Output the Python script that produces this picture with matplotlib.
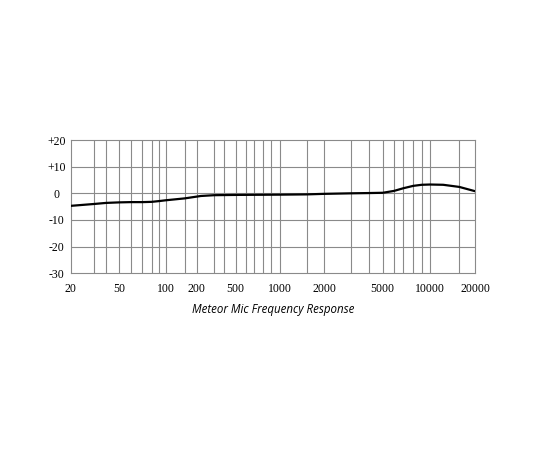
import numpy as np
import matplotlib
matplotlib.use('Agg')
import matplotlib.pyplot as plt

# frequency response
freq = [20, 30, 40, 50, 60, 70, 80, 90, 100, 150, 220, 300, 500, 1000, 1500,
        2000, 3000, 4000, 5000, 6000, 7000, 8000, 9000, 10000, 12000, 15000, 20000]
level = [-4.7, -4.0, -3.6, -3.4, -3.3, -3.3, -3.2, -2.9, -2.6, -1.9, -1.0, -0.7,
         -0.6, -0.5, -0.4, -0.2, 0.0, 0.1, 0.2, 0.9, 1.9, 2.8, 3.2, 3.3, 3.2, 2.4, 0.8]

xticks = [20, 50, 100, 200, 500, 1000, 2000, 5000, 10000, 20000]
yticks = [-30, -20, -10, 0, 10, 20]
ylabels = ['-30', '-20', '-10', '0', '+10', '+20']
title = 'Meteor Mic Frequency Response'

# the printed grid is not an exact log scale, so the axis follows the drawn lines
grid_f = [20, 30, 40, 50, 60, 70, 80, 90, 100, 150, 200, 300, 400, 500, 600, 700,
          800, 900, 1000, 1500, 2000, 3000, 4000, 5000, 6000, 7000, 8000, 9000,
          10000, 15000, 20000]
grid_pos = [70.7, 94, 106, 119, 130.7, 142.3, 151.7, 159.3, 166, 184.7, 196.7,
            214.3, 224.3, 235.7, 245.7, 254.3, 262.7, 270.7, 280, 306.7, 324,
            350.7, 368.7, 382.7, 394, 403.3, 413.3, 421.7, 430, 459.3, 475]
log_f = np.log10(grid_f)


def fwd(f):
    f = np.clip(np.asarray(f, dtype=float), 1e-9, None)
    return np.interp(np.log10(f), log_f, grid_pos)


def inv(p):
    return 10 ** np.interp(np.asarray(p, dtype=float), grid_pos, log_f)


fig = plt.figure(figsize=(5.5, 4.5), dpi=100)
ax = fig.add_axes([70.7 / 550, 1 - 273.3 / 450, (475 - 70.7) / 550, (273.3 - 140) / 450])
ax.set_xscale('function', functions=(fwd, inv))
ax.set_xlim(20, 20000)
ax.set_ylim(-30, 20)

gcol = '#8a8a8a'
for f in grid_f[1:-1]:
    ax.axvline(f, color=gcol, lw=0.8, zorder=1)
for y in yticks[1:-1]:
    ax.axhline(y, color=gcol, lw=0.8, zorder=1)
for s in ax.spines.values():
    s.set_color(gcol)
    s.set_linewidth(0.8)

ax.plot(freq, level, color='black', lw=1.6, zorder=3, solid_capstyle='round')

ax.set_xticks(xticks)
ax.set_xticklabels([str(t) for t in xticks], fontfamily='Liberation Serif', fontsize=8.5)
ax.xaxis.set_minor_locator(matplotlib.ticker.NullLocator())
ax.set_yticks(yticks)
ax.set_yticklabels(ylabels, fontfamily='Liberation Serif', fontsize=8.5)
for lab in ax.get_yticklabels():
    lab.set_horizontalalignment('center')
ax.tick_params(axis='both', length=0)
ax.tick_params(axis='x', pad=7)
ax.tick_params(axis='y', pad=10)

fig.text((70.7 + 475) / 2 / 550, 1 - 309.5 / 450, title, ha='center', va='center',
         fontfamily='Open Sans', fontstyle='italic', fontsize=8.3)

fig.savefig('out.png', dpi=100, facecolor='white')
